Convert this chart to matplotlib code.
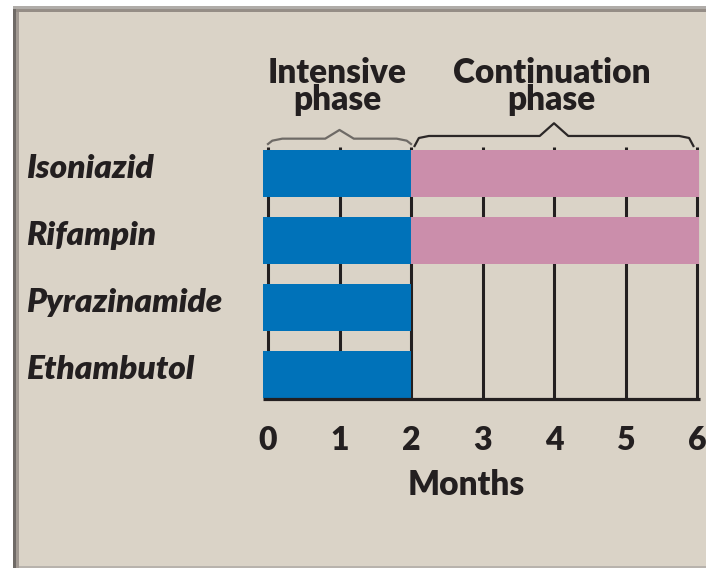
import matplotlib.pyplot as plt
from matplotlib.patches import Rectangle

# data ------------------------------------------------
drugs = ['Isoniazid', 'Rifampin', 'Pyrazinamide', 'Ethambutol']
intensive = [2, 2, 2, 2]          # months 0-2
continuation = [4, 4, 0, 0]       # months 2-6
months = [0, 1, 2, 3, 4, 5, 6]
phases = ['Intensive\nphase', 'Continuation\nphase']
phase_spans = [(0, 2), (2, 6)]

BG = '#dad3c7'
BLUE = '#0072b9'
PINK = '#cb8eab'
INK = '#231f20'
FONT = ['Lato', 'DejaVu Sans']
WEIGHT = 'heavy'

W, H = 706, 568
fig = plt.figure(figsize=(W / 100, H / 100), dpi=100, facecolor='white')

# panel + frame (figure pixels)
def px_rect(x0, y0, x1, y1, color, z=0):
    fig.add_artist(Rectangle((x0 / W, 1 - y1 / H), (x1 - x0) / W, (y1 - y0) / H,
                             transform=fig.transFigure, color=color, lw=0, zorder=z))

px_rect(13, 6, W, H, BG)
px_rect(13, 6, W, 9, '#b0aca8')
px_rect(16, 9, W, 12, '#958d86')
px_rect(13, 9, 16, H, '#6f6a66')
px_rect(16, 12, 19, H, '#a29a93')
px_rect(19, H - 2, W, H, '#b8b3ad')

# full-figure axes: x in months, y in row units
ax = fig.add_axes([0, 0, 1, 1])
ax.set_axis_off()
ax.patch.set_alpha(0)
ax.set_xlim(-268 / 71.5, (W - 268) / 71.5)
ax.set_ylim((H - 173.5) / 67, -173.5 / 67)

rows = range(len(drugs))
bar_h = 0.70
over = 0.07

# grid lines and baseline
ax.vlines(months, -0.40, 3.37, color=INK, lw=2.2, zorder=1)
ax.hlines(3.37, -over, 6.04, color=INK, lw=2.3, zorder=3)

for i in rows:
    ax.barh(i, intensive[i] + over, left=-over, height=bar_h, color=BLUE, zorder=2)
    if continuation[i] > 0:
        ax.barh(i, continuation[i] + 0.03, left=intensive[i], height=bar_h, color=PINK, zorder=2)
    ax.text(-3.385, i - 0.07, drugs[i], ha='left', va='center', fontsize=24,
            fontweight=WEIGHT, fontstyle='italic', color=INK, family=FONT)

# braces
def brace(x0, x1, y_flat, y_end, y_peak, color):
    xm = (x0 + x1) / 2
    xs = [x0, x0 + 0.06, x0 + 0.2, xm - 0.2, xm, xm + 0.2, x1 - 0.2, x1 - 0.06, x1]
    ys = [y_end, y_flat + 0.03, y_flat, y_flat, y_peak, y_flat, y_flat, y_flat + 0.03, y_end]
    ax.plot(xs, ys, color=color, lw=1.6, solid_joinstyle='round', zorder=3)

brace(0, 2, -0.52, -0.44, -0.65, '#6e6a66')
brace(2.05, 5.95, -0.56, -0.41, -0.75, '#2b2727')

for (a, b), name in zip(phase_spans, phases):
    ax.text((a + b) / 2 - 0.03, -1.30, name, ha='center', va='center', fontsize=24,
            fontweight=WEIGHT, color=INK, family=FONT, linespacing=0.82)

for m in months:
    ax.text(m, 3.99, str(m), ha='center', va='center', fontsize=23,
            fontweight=WEIGHT, color=INK, family=FONT)

ax.text(2.77, 4.65, 'Months', ha='center', va='center', fontsize=24,
        fontweight=WEIGHT, color=INK, family=FONT)

fig.savefig('out.png', dpi=100, facecolor='white')
